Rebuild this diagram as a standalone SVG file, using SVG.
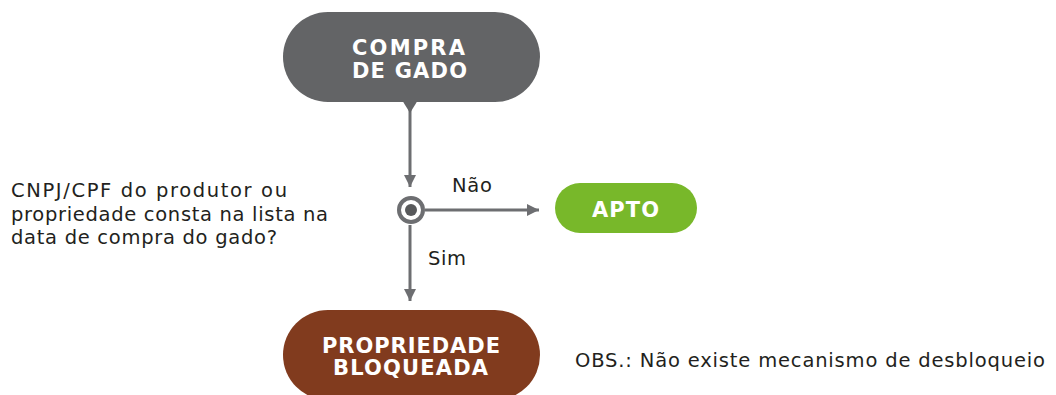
<svg xmlns="http://www.w3.org/2000/svg" width="1056" height="395" viewBox="0 0 1056 395">
<style>
.lbl{font-family:"DejaVu Sans","Liberation Sans",sans-serif;font-weight:bold;fill:#fff;font-size:21px;text-anchor:middle}
.txt{font-family:"DejaVu Sans","Liberation Sans",sans-serif;fill:#231f20;font-size:19.5px}
.conn{stroke:#6d6e71;stroke-width:3;fill:none}
</style>
<defs>
<marker id="arr" viewBox="0 0 12 12" refX="12" refY="6" markerWidth="12" markerHeight="12" markerUnits="userSpaceOnUse" orient="auto">
<path d="M0,0 L12,6 L0,12 Z" fill="#6d6e71"/>
</marker>
</defs>
<rect width="1056" height="395" fill="#fff"/>
<g id="connectors">
<line class="conn" x1="410" y1="105" x2="410" y2="187" marker-end="url(#arr)"/>
<line class="conn" x1="425" y1="210" x2="539" y2="210" marker-end="url(#arr)"/>
<line class="conn" x1="410" y1="225" x2="410" y2="301" marker-end="url(#arr)"/>
<text class="txt" x="452" y="192" textLength="40">Não</text>
<text class="txt" x="428" y="265" textLength="38">Sim</text>
</g>
<g id="compra">
<rect x="283" y="12" width="257" height="90" rx="45" fill="#636466"/>
<path d="M402,100 L418,100 L410,113 Z" fill="#636466"/>
<text class="lbl" x="408.5" y="55" textLength="113">COMPRA</text>
<text class="lbl" x="409.5" y="78" textLength="115">DE GADO</text>
</g>
<g id="decision">
<circle cx="411" cy="210" r="12" fill="#fff" stroke="#6d6e71" stroke-width="4"/>
<circle cx="411" cy="210" r="6" fill="#58595b"/>
<text class="txt" x="11" y="197" textLength="276">CNPJ/CPF do produtor ou</text>
<text class="txt" x="11" y="221" textLength="317">propriedade consta na lista na</text>
<text class="txt" x="11" y="244" textLength="266">data de compra do gado?</text>
</g>
<g id="apto">
<rect x="555" y="183" width="142" height="50" rx="25" fill="#78b82a"/>
<text class="lbl" x="625.5" y="217" textLength="67">APTO</text>
</g>
<g id="bloqueada">
<rect x="283" y="310" width="257" height="90" rx="45" fill="#813b1e"/>
<text class="lbl" x="411" y="353" textLength="178">PROPRIEDADE</text>
<text class="lbl" x="410.5" y="375" textLength="155">BLOQUEADA</text>
</g>
<g id="obs">
<text class="txt" x="575" y="367" textLength="470">OBS.: Não existe mecanismo de desbloqueio</text>
</g>
</svg>
